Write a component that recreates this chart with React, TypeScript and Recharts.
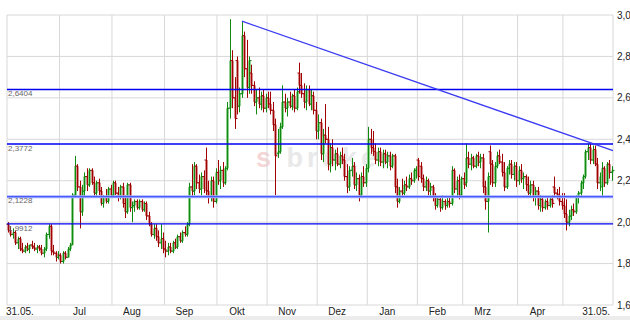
import React from 'react'
import { ComposedChart, Bar, XAxis, YAxis, CartesianGrid, ReferenceLine } from 'recharts'

// month labels sit just right of the month boundary grid line
const MONTH_LABELS = ['31.05.', 'Jul', 'Aug', 'Sep', 'Okt', 'Nov', 'Dez', 'Jan', 'Feb', 'Mrz', 'Apr', '', '31.05.']
// trading days per month: Jun .. Mai
const MONTH_DAYS = [22, 22, 22, 22, 21, 21, 21, 21, 19, 23, 19, 21]
const Y_TICKS = [1.6, 1.8, 2.0, 2.2, 2.4, 2.6, 2.8, 3.0]
const LEVELS = [2.6404, 2.3772, 2.1228, 1.9912]
const LEVEL_LABELS = ['2,6404', '2,3772', '2,1228', '1,9912']
const TREND_START = { i: 98, v: 2.97 }
const TREND_END_V = 2.345

const OPEN = [
  1.99, 1.96, 1.94, 1.95, 1.90, 1.92, 1.87, 1.86, 1.88, 1.87, 1.89, 1.88, 1.87, 1.88, 1.87, 1.85, 1.87, 1.94, 1.98, 1.86, 1.85, 1.83,
  1.84, 1.81, 1.85, 1.83, 1.87, 1.89, 2.13, 2.27, 2.17, 2.05, 2.15, 2.22, 2.18, 2.25, 2.19, 2.14, 2.19, 2.15, 2.09, 2.12, 2.10, 2.16,
  2.13, 2.19, 2.14, 2.12, 2.17, 2.09, 2.05, 2.18, 2.07, 2.08, 2.10, 2.07, 2.10, 2.06, 2.09, 2.03, 1.99, 1.94, 1.97, 1.93, 1.90, 1.92,
  1.87, 1.86, 1.88, 1.86, 1.90, 1.88, 1.93, 1.91, 1.95, 1.94, 1.99, 2.17, 2.15, 2.27, 2.19, 2.16, 2.22, 2.30, 2.15, 2.12, 2.20, 2.10,
  2.24, 2.20, 2.25, 2.19, 2.26, 2.55, 2.78, 2.60, 2.78, 2.56, 2.62, 2.90, 2.74, 2.65, 2.72, 2.66, 2.58, 2.60, 2.57, 2.61, 2.55,
  2.60, 2.57, 2.54, 2.47, 2.33, 2.34, 2.46, 2.58, 2.55, 2.58, 2.56, 2.61, 2.55, 2.72, 2.66, 2.62, 2.58, 2.64, 2.57, 2.61, 2.54,
  2.44, 2.48, 2.33, 2.42, 2.40, 2.28, 2.36, 2.30, 2.33, 2.28, 2.32, 2.30, 2.22, 2.17, 2.25, 2.27, 2.18, 2.21, 2.13, 2.22, 2.19,
  2.26, 2.40, 2.36, 2.34, 2.30, 2.34, 2.29, 2.33, 2.29, 2.32, 2.27, 2.32, 2.17, 2.10, 2.15, 2.14, 2.18, 2.17, 2.21, 2.20, 2.25,
  2.30, 2.27, 2.21, 2.17, 2.20, 2.15, 2.17, 2.12, 2.08, 2.11, 2.07, 2.10, 2.08, 2.10, 2.09, 2.25, 2.16, 2.20, 2.13,
  2.21, 2.19, 2.31, 2.28, 2.31, 2.27, 2.32, 2.29, 2.31, 2.17, 2.10, 2.34, 2.28, 2.19, 2.27, 2.32, 2.29, 2.24, 2.17, 2.26, 2.28, 2.23, 2.27,
  2.20, 2.25, 2.21, 2.22, 2.18, 2.14, 2.18, 2.12, 2.15, 2.08, 2.11, 2.07, 2.10, 2.08, 2.11, 2.17, 2.14, 2.13, 2.10,
  2.08, 2.04, 2.00, 2.03, 2.06, 2.05, 2.12, 2.14, 2.19, 2.22, 2.34, 2.36, 2.30, 2.35, 2.28, 2.19, 2.17, 2.26, 2.19, 2.28, 2.24,
]
const HIGH = [
  2.00, 1.98, 1.97, 1.96, 1.93, 1.93, 1.90, 1.89, 1.90, 1.89, 1.91, 1.90, 1.89, 1.89, 1.89, 1.88, 1.95, 1.99, 1.99, 1.89, 1.86, 1.86,
  1.85, 1.86, 1.86, 1.88, 1.90, 2.14, 2.32, 2.28, 2.20, 2.18, 2.24, 2.26, 2.26, 2.26, 2.22, 2.20, 2.21, 2.17, 2.13, 2.16, 2.17, 2.18,
  2.20, 2.20, 2.17, 2.18, 2.19, 2.13, 2.19, 2.19, 2.10, 2.11, 2.11, 2.11, 2.11, 2.10, 2.10, 2.05, 2.00, 1.99, 1.99, 1.96, 1.99, 1.95,
  1.91, 1.90, 1.90, 1.91, 1.92, 1.94, 1.95, 1.96, 1.98, 2.00, 2.19, 2.28, 2.29, 2.28, 2.23, 2.24, 2.25, 2.36, 2.20, 2.22, 2.22, 2.26,
  2.30, 2.27, 2.29, 2.27, 2.58, 2.98, 2.83, 2.70, 2.80, 2.65, 2.97, 2.92, 2.88, 2.80, 2.76, 2.68, 2.64, 2.65, 2.63, 2.64, 2.62,
  2.63, 2.63, 2.58, 2.50, 2.45, 2.48, 2.66, 2.62, 2.60, 2.63, 2.62, 2.64, 2.65, 2.77, 2.72, 2.67, 2.66, 2.66, 2.64, 2.63, 2.58,
  2.52, 2.50, 2.45, 2.57, 2.46, 2.38, 2.40, 2.35, 2.36, 2.34, 2.36, 2.33, 2.28, 2.27, 2.31, 2.29, 2.24, 2.23, 2.24, 2.27, 2.28,
  2.46, 2.45, 2.44, 2.38, 2.36, 2.36, 2.35, 2.35, 2.34, 2.34, 2.33, 2.33, 2.21, 2.17, 2.21, 2.20, 2.22, 2.23, 2.24, 2.26, 2.27,
  2.31, 2.29, 2.23, 2.22, 2.21, 2.19, 2.18, 2.14, 2.12, 2.12, 2.13, 2.11, 2.12, 2.12, 2.27, 2.26, 2.22, 2.23, 2.22,
  2.24, 2.38, 2.34, 2.33, 2.32, 2.33, 2.34, 2.33, 2.33, 2.20, 2.24, 2.37, 2.30, 2.29, 2.34, 2.35, 2.33, 2.29, 2.27, 2.30, 2.30, 2.29, 2.29,
  2.27, 2.28, 2.24, 2.23, 2.22, 2.20, 2.20, 2.17, 2.17, 2.13, 2.12, 2.11, 2.12, 2.12, 2.13, 2.22, 2.16, 2.17, 2.14,
  2.14, 2.11, 2.06, 2.08, 2.09, 2.13, 2.15, 2.20, 2.23, 2.35, 2.38, 2.38, 2.37, 2.37, 2.31, 2.24, 2.29, 2.27, 2.29, 2.30, 2.27,
]
const LOW = [
  1.95, 1.93, 1.92, 1.89, 1.87, 1.86, 1.85, 1.85, 1.86, 1.85, 1.87, 1.86, 1.85, 1.86, 1.84, 1.83, 1.86, 1.92, 1.84, 1.84, 1.81, 1.82,
  1.80, 1.80, 1.82, 1.83, 1.86, 1.89, 2.12, 2.15, 1.97, 2.03, 2.12, 2.15, 2.17, 2.18, 2.12, 2.12, 2.13, 2.08, 2.07, 2.09, 2.09, 2.12,
  2.12, 2.13, 2.10, 2.11, 2.07, 2.02, 2.04, 2.05, 2.00, 2.05, 2.06, 2.06, 2.05, 2.05, 2.01, 1.98, 1.93, 1.92, 1.91, 1.88, 1.87, 1.85,
  1.83, 1.84, 1.85, 1.85, 1.87, 1.87, 1.90, 1.90, 1.93, 1.93, 1.98, 2.12, 2.13, 2.16, 2.14, 2.13, 2.14, 2.13, 2.09, 2.10, 2.07, 2.09,
  2.18, 2.16, 2.17, 2.18, 2.25, 2.50, 2.55, 2.45, 2.52, 2.53, 2.60, 2.70, 2.60, 2.62, 2.62, 2.56, 2.52, 2.55, 2.54, 2.53, 2.53,
  2.55, 2.52, 2.44, 2.13, 2.31, 2.33, 2.45, 2.53, 2.51, 2.55, 2.54, 2.53, 2.54, 2.62, 2.60, 2.55, 2.54, 2.56, 2.54, 2.52, 2.40,
  2.40, 2.30, 2.29, 2.38, 2.25, 2.24, 2.27, 2.25, 2.27, 2.26, 2.28, 2.20, 2.14, 2.15, 2.22, 2.16, 2.15, 2.10, 2.12, 2.17, 2.17,
  2.24, 2.33, 2.32, 2.28, 2.27, 2.27, 2.26, 2.28, 2.26, 2.25, 2.26, 2.14, 2.07, 2.09, 2.12, 2.13, 2.15, 2.16, 2.18, 2.19, 2.21,
  2.20, 2.19, 2.15, 2.15, 2.13, 2.12, 2.10, 2.06, 2.07, 2.05, 2.06, 2.06, 2.07, 2.07, 2.08, 2.14, 2.12, 2.11, 2.12,
  2.16, 2.17, 2.26, 2.25, 2.26, 2.26, 2.27, 2.26, 2.14, 2.06, 1.95, 2.18, 2.17, 2.17, 2.26, 2.28, 2.22, 2.15, 2.16, 2.23, 2.21, 2.20, 2.17,
  2.18, 2.19, 2.16, 2.15, 2.13, 2.12, 2.10, 2.08, 2.06, 2.05, 2.05, 2.06, 2.06, 2.07, 2.07, 2.12, 2.11, 2.08, 2.06,
  2.02, 1.96, 1.98, 2.01, 2.03, 2.04, 2.09, 2.12, 2.16, 2.21, 2.30, 2.28, 2.28, 2.27, 2.16, 2.15, 2.12, 2.17, 2.18, 2.21, 2.20,
]
const CLOSE = [
  1.96, 1.94, 1.95, 1.90, 1.92, 1.87, 1.86, 1.88, 1.87, 1.89, 1.88, 1.87, 1.88, 1.87, 1.85, 1.87, 1.94, 1.98, 1.86, 1.85, 1.83, 1.84,
  1.81, 1.85, 1.83, 1.87, 1.89, 2.13, 2.27, 2.17, 2.05, 2.15, 2.22, 2.18, 2.25, 2.19, 2.14, 2.19, 2.15, 2.09, 2.12, 2.10, 2.16, 2.13,
  2.19, 2.14, 2.12, 2.17, 2.09, 2.05, 2.18, 2.07, 2.08, 2.10, 2.07, 2.10, 2.06, 2.09, 2.03, 1.99, 1.94, 1.97, 1.93, 1.90, 1.92, 1.87,
  1.86, 1.88, 1.86, 1.90, 1.88, 1.93, 1.91, 1.95, 1.94, 1.99, 2.17, 2.15, 2.27, 2.19, 2.16, 2.22, 2.16, 2.15, 2.12, 2.20, 2.10, 2.24,
  2.20, 2.25, 2.19, 2.26, 2.55, 2.78, 2.60, 2.50, 2.56, 2.62, 2.90, 2.74, 2.65, 2.78, 2.66, 2.58, 2.60, 2.57, 2.61, 2.55, 2.60,
  2.57, 2.54, 2.47, 2.32, 2.34, 2.46, 2.58, 2.55, 2.58, 2.56, 2.61, 2.55, 2.63, 2.66, 2.62, 2.58, 2.64, 2.57, 2.61, 2.54, 2.44,
  2.48, 2.33, 2.42, 2.40, 2.28, 2.36, 2.30, 2.33, 2.28, 2.32, 2.30, 2.22, 2.17, 2.25, 2.27, 2.18, 2.21, 2.13, 2.22, 2.19, 2.26,
  2.40, 2.36, 2.34, 2.30, 2.34, 2.29, 2.33, 2.29, 2.32, 2.27, 2.32, 2.17, 2.10, 2.15, 2.14, 2.18, 2.17, 2.21, 2.20, 2.25, 2.26,
  2.22, 2.21, 2.17, 2.20, 2.15, 2.17, 2.12, 2.08, 2.11, 2.07, 2.10, 2.08, 2.10, 2.09, 2.25, 2.16, 2.20, 2.13, 2.21,
  2.18, 2.31, 2.28, 2.31, 2.27, 2.32, 2.29, 2.31, 2.17, 2.10, 2.22, 2.28, 2.19, 2.27, 2.32, 2.29, 2.24, 2.17, 2.26, 2.28, 2.23, 2.27, 2.20,
  2.25, 2.21, 2.22, 2.18, 2.14, 2.18, 2.12, 2.15, 2.08, 2.11, 2.07, 2.10, 2.08, 2.11, 2.09, 2.14, 2.13, 2.10, 2.08,
  2.04, 2.00, 2.03, 2.06, 2.05, 2.12, 2.14, 2.19, 2.22, 2.34, 2.36, 2.30, 2.35, 2.28, 2.19, 2.22, 2.26, 2.19, 2.28, 2.24, 2.25,
]

const FONT = '"Liberation Sans", Arial, sans-serif'
const N = OPEN.length

const data = OPEN.map((o, i) => ({
  i,
  open: o,
  high: HIGH[i],
  low: LOW[i],
  close: CLOSE[i],
  range: [LOW[i], HIGH[i]],
}))

// month boundaries (between bars)
const xTicks: number[] = [-0.5]
MONTH_DAYS.reduce((acc, d) => {
  xTicks.push(acc + d - 0.5)
  return acc + d
}, 0)

function MonthTick(props: any) {
  const { x, y, payload } = props
  const idx = xTicks.indexOf(payload.value)
  const label = MONTH_LABELS[idx]
  if (!label) return null
  const first = idx === 0
  const last = idx === xTicks.length - 1
  return (
    <text
      x={first ? x - 1 : last ? x - 3 : x + 20}
      y={y + 10}
      textAnchor={first ? 'start' : last ? 'end' : 'middle'}
      fontSize={10}
      fontFamily={FONT}
      fill="#222"
    >
      {label}
    </text>
  )
}

function OhlcBar(props: any) {
  const { x, y, width, height, payload } = props
  if (!payload || height == null) return null
  const { open, high, low, close } = payload
  const span = high - low || 1e-6
  const yOf = (v: number) => y + ((high - v) / span) * height
  const cx = Math.round(x + width / 2) + 0.5
  const up = close >= open
  const dark = up ? '#108a10' : '#a00000'
  const pale = up ? '#8fd08f' : '#d88f8f'
  const yo = yOf(open)
  const yc = yOf(close)
  return (
    <g>
      <rect x={cx - 1.5} y={Math.min(yo, yc)} width={3} height={Math.max(Math.abs(yc - yo), 1)} fill={pale} />
      <line x1={cx} x2={cx} y1={y} y2={y + height} stroke={dark} strokeWidth={1} />
      <line x1={cx - 2} x2={cx} y1={yo} y2={yo} stroke={dark} strokeWidth={1} />
      <line x1={cx} x2={cx + 2} y1={yc} y2={yc} stroke={dark} strokeWidth={1} />
    </g>
  )
}

export default function App() {
  return (
    <div style={{ position: 'relative', width: 630, height: 320, background: '#fff', fontFamily: FONT }}>
      <style>{'body{margin:0}'}</style>
      <div
        style={{
          position: 'absolute',
          left: 256,
          top: 143,
          fontSize: 27,
          fontWeight: 'bold',
          letterSpacing: 4,
          color: '#e9e9e9',
          fontFamily: FONT,
        }}
      >
        <span style={{ color: '#f5d6d6' }}>s</span> broker
      </div>
      <div style={{ position: 'absolute', left: 0, top: 316, width: 630, height: 4, background: '#ececec' }} />
      <div style={{ position: 'absolute', left: 0, top: 0 }}>
        <ComposedChart width={630} height={320} data={data} margin={{ top: 15, right: 0, bottom: 0, left: 7 }}>
          <CartesianGrid stroke="#d8d8d8" strokeWidth={1} />
          <XAxis
            dataKey="i"
            type="number"
            domain={[-0.5, N - 0.5]}
            ticks={xTicks}
            interval={0}
            tick={<MonthTick />}
            tickLine={false}
            axisLine={false}
            tickSize={0}
            tickMargin={0}
            height={15}
          />
          <YAxis
            orientation="right"
            type="number"
            domain={[1.6, 3.0]}
            ticks={Y_TICKS}
            allowDataOverflow
            width={17}
            tickLine={false}
            axisLine={false}
            tickSize={0}
            tickMargin={4}
            tick={{ fontSize: 10, fill: '#222', fontFamily: FONT }}
            tickFormatter={(v: number) => v.toFixed(1).replace('.', ',')}
          />
          <Bar dataKey="range" barSize={2} shape={<OhlcBar />} isAnimationActive={false} />
          <ReferenceLine y={LEVELS[2]} stroke="#a4b0ff" strokeWidth={3} />
          {LEVELS.map((lv, k) => (
            <ReferenceLine
              key={lv}
              y={lv}
              stroke={k === 2 ? '#3346ff' : '#0000f0'}
              strokeWidth={k === 2 ? 1 : 1.3}
              label={{ value: LEVEL_LABELS[k], position: 'insideTopLeft', offset: 1, fontSize: 8, fill: '#666', fontFamily: FONT }}
            />
          ))}
          <ReferenceLine
            segment={[
              { x: TREND_START.i, y: TREND_START.v },
              { x: N - 0.5, y: TREND_END_V },
            ]}
            stroke="#3a3af2"
            strokeWidth={1.3}
          />
        </ComposedChart>
      </div>
    </div>
  )
}
